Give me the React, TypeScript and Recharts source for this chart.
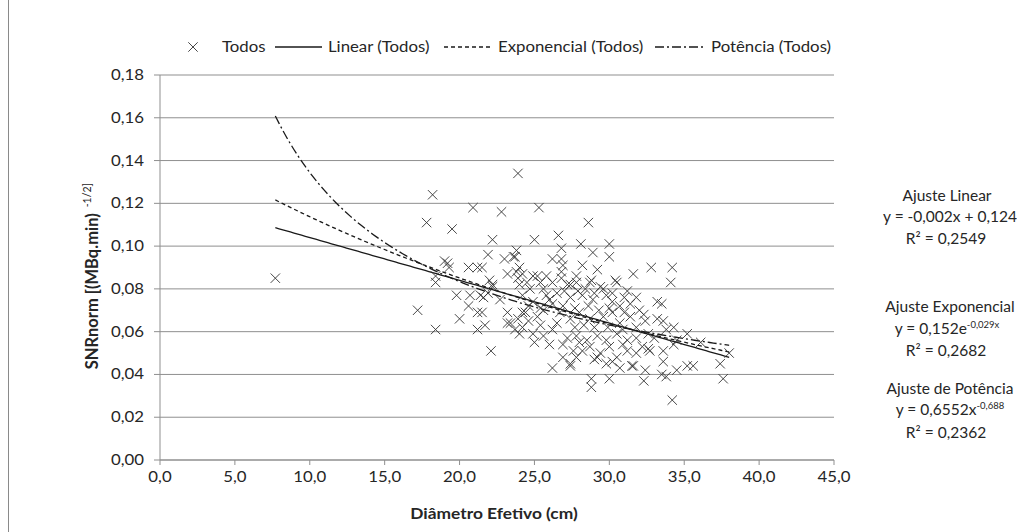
import React from 'react';
import { ComposedChart, Scatter, Line, XAxis, YAxis, CartesianGrid } from 'recharts';

// Diâmetro efetivo (cm), SNRnorm
const todos: [number, number][] = [
  [7.7, 0.085], [18.2, 0.124], [20.9, 0.118], [22.8, 0.116], [17.8, 0.111], [19.5, 0.108],
  [22.2, 0.103], [21.9, 0.096], [19.0, 0.093], [19.2, 0.092], [19.3, 0.090], [20.6, 0.090],
  [21.2, 0.090], [21.5, 0.090], [18.4, 0.086], [18.4, 0.083], [17.2, 0.070], [18.4, 0.061],
  [19.8, 0.077], [20.0, 0.066], [20.6, 0.072], [21.2, 0.069], [21.5, 0.069], [21.2, 0.061],
  [21.7, 0.063], [22.1, 0.051], [21.9, 0.078], [21.6, 0.076], [23.9, 0.134], [25.3, 0.118],
  [28.6, 0.111], [25.0, 0.103], [26.6, 0.105], [28.1, 0.101], [30.0, 0.101], [30.0, 0.095],
  [28.9, 0.097], [26.8, 0.099], [23.0, 0.094], [23.6, 0.095], [23.8, 0.098], [26.2, 0.094],
  [26.8, 0.094], [26.9, 0.091], [28.2, 0.091], [29.2, 0.089], [32.8, 0.090], [34.2, 0.090],
  [34.1, 0.083], [31.6, 0.087], [30.4, 0.084], [31.8, 0.076], [33.2, 0.074], [33.5, 0.073],
  [26.2, 0.043], [27.4, 0.044], [28.8, 0.038], [28.8, 0.034], [30.0, 0.038], [32.3, 0.037],
  [31.5, 0.044], [33.5, 0.040], [34.5, 0.042], [35.2, 0.044], [35.6, 0.044], [34.2, 0.028],
  [32.3, 0.068], [32.4, 0.065], [33.2, 0.066], [33.6, 0.065], [34.3, 0.062], [35.2, 0.059],
  [36.1, 0.055], [34.5, 0.056], [34.3, 0.054], [32.6, 0.052], [32.7, 0.051], [33.6, 0.051],
  [33.6, 0.046], [38.0, 0.050], [37.4, 0.045], [37.6, 0.038], [33.8, 0.039], [32.4, 0.042],
  [27.8, 0.086], [27.4, 0.082], [28.8, 0.084], [26.8, 0.088], [26.8, 0.085], [24.2, 0.087],
  [24.9, 0.086], [25.2, 0.086], [25.8, 0.086], [24.0, 0.090], [23.7, 0.095], [23.2, 0.087],
  [23.8, 0.088], [23.9, 0.085], [24.0, 0.082], [22.0, 0.084], [22.2, 0.081], [20.7, 0.077],
  [21.4, 0.077], [22.2, 0.082], [22.7, 0.075], [23.2, 0.069], [23.2, 0.064], [23.4, 0.064],
  [23.7, 0.061], [24.0, 0.059], [24.2, 0.069], [23.9, 0.066],
  [24.5, 0.083], [25.4, 0.083], [26.2, 0.083], [27.2, 0.082], [27.8, 0.083], [28.7, 0.083],
  [29.4, 0.081], [30.5, 0.083], [31.2, 0.079],
  [24.2, 0.077], [24.9, 0.074], [25.8, 0.077], [26.2, 0.073], [27.4, 0.076], [28.2, 0.077],
  [28.9, 0.075], [29.8, 0.077], [30.2, 0.074], [30.7, 0.072], [31.4, 0.073], [32.0, 0.070],
  [24.4, 0.069], [25.2, 0.067], [25.6, 0.070], [26.7, 0.069], [27.4, 0.066], [28.0, 0.069],
  [28.7, 0.066], [29.6, 0.067], [30.2, 0.069], [30.7, 0.064], [31.4, 0.067], [31.8, 0.062],
  [24.2, 0.062], [24.9, 0.059], [25.6, 0.058], [26.2, 0.061], [27.2, 0.057], [27.8, 0.058],
  [28.5, 0.056], [29.2, 0.058], [29.8, 0.056], [30.5, 0.059], [31.2, 0.056], [31.8, 0.057],
  [26.9, 0.054], [27.6, 0.051], [28.0, 0.055], [28.7, 0.053], [29.4, 0.050], [30.0, 0.053],
  [30.5, 0.048], [31.2, 0.051], [31.8, 0.050], [32.2, 0.053],
  [26.9, 0.048], [27.4, 0.045], [27.8, 0.048], [29.2, 0.048], [29.8, 0.045], [30.2, 0.046],
  [31.6, 0.044], [30.7, 0.043],
  [24.7, 0.080], [25.6, 0.080], [26.5, 0.078], [27.0, 0.079], [27.9, 0.079], [28.4, 0.080],
  [29.0, 0.078], [29.6, 0.080], [30.2, 0.078], [31.0, 0.076],
  [24.6, 0.072], [25.4, 0.071], [26.0, 0.075], [26.9, 0.072], [27.7, 0.071], [28.6, 0.072],
  [29.3, 0.070], [30.0, 0.071], [31.0, 0.069],
  [24.6, 0.065], [25.4, 0.063], [26.5, 0.064], [27.7, 0.062], [28.3, 0.063], [29.0, 0.062],
  [29.9, 0.062], [30.9, 0.061], [32.6, 0.059],
  [25.0, 0.055], [26.0, 0.054], [28.2, 0.051], [29.0, 0.047], [30.9, 0.054], [33.0, 0.057],
  [33.8, 0.061],
];

const xTicks = [0, 5, 10, 15, 20, 25, 30, 35, 40, 45];
const yTicks = [0, 0.02, 0.04, 0.06, 0.08, 0.1, 0.12, 0.14, 0.16, 0.18];

// fitted coefficients, as printed next to the plot
const linear = { a: -0.002, b: 0.124, r2: '0,2549' };
const exponencial = { a: 0.152, k: -0.029, r2: '0,2682' };
const potencia = { a: 0.6552, k: -0.688, r2: '0,2362' };

const points = todos.map(([x, y]) => ({ x, y }));
const xMin = Math.min(...todos.map(p => p[0]));
const xMax = Math.max(...todos.map(p => p[0]));
const trendX: number[] = [];
for (let x = xMin; x < xMax; x += 0.25) trendX.push(x);
trendX.push(xMax);
const linearFit = trendX.map(x => ({ x, y: linear.a * x + linear.b }));
const expFit = trendX.map(x => ({ x, y: exponencial.a * Math.exp(exponencial.k * x) }));
const powFit = trendX.map(x => ({ x, y: potencia.a * Math.pow(x, potencia.k) }));

const W = 1017;
const H = 532;
const FONT = 'Lato, "DejaVu Sans", sans-serif';
const INK = '#262626';
const GRID = '#8f8f8f';
const SX = 1.12; // horizontal stretch of the labels
const FS = 15;

const fmt = (v: number, d: number) => v.toFixed(d).replace('.', ',');

const Cross = ({ cx, cy }: any) => {
  if (cx == null || cy == null) return <g />;
  const r = 4.7;
  return (
    <path
      d={`M${cx - r},${cy - r}L${cx + r},${cy + r}M${cx + r},${cy - r}L${cx - r},${cy + r}`}
      stroke="#333" strokeWidth={1} fill="none" opacity={0.9}
    />
  );
};

const Wide = ({ x, y, anchor = 'start', size = FS, bold = false, children }: any) => (
  <text
    transform={`scale(${SX},1)`} x={x / SX} y={y} textAnchor={anchor}
    fontSize={size} fontWeight={bold ? 700 : 400} fill={INK} fontFamily={FONT}
  >
    {children}
  </text>
);

const XTick = ({ x, y, payload }: any) => (
  <Wide x={x} y={y + 15} anchor="middle">{fmt(payload.value, 1)}</Wide>
);

const YTick = ({ x, y, payload }: any) => (
  <Wide x={x} y={y + 5} anchor="end">{fmt(payload.value, 2)}</Wide>
);

const LegendItems = () => (
  <g>
    <Cross cx={193} cy={47} />
    <Wide x={222} y={52}>Todos</Wide>
    <line x1={275} x2={322} y1={47} y2={47} stroke="#1a1a1a" strokeWidth={1.3} />
    <Wide x={328} y={52}>Linear (Todos)</Wide>
    <line x1={444} x2={492} y1={47} y2={47} stroke="#1a1a1a" strokeWidth={1.3} strokeDasharray="4 3" />
    <Wide x={498} y={52}>Exponencial (Todos)</Wide>
    <line x1={655} x2={705} y1={47} y2={47} stroke="#1a1a1a" strokeWidth={1.3} strokeDasharray="9 3 2 3" />
    <Wide x={711} y={52}>Potência (Todos)</Wide>
  </g>
);

const Note = ({ x, y, children }: any) => (
  <text x={x} y={y} textAnchor="middle" fontSize={15.5} fill={INK} fontFamily={FONT}>{children}</text>
);

const NX = 950;

const App: React.FC = () => (
  <div style={{ position: 'relative', width: W, height: H, background: '#fff', overflow: 'hidden' }}>
    <style>{'body{margin:0;overflow:hidden;}'}</style>
    <ComposedChart width={W} height={H} margin={{ top: 75, right: 183, bottom: 0, left: 0 }}>
      <CartesianGrid vertical={false} stroke={GRID} />
      <XAxis
        type="number" dataKey="x" domain={[0, 45]} ticks={xTicks} height={72}
        axisLine={{ stroke: GRID }} tickLine={{ stroke: GRID }} tickSize={5} tickMargin={2}
        tick={<XTick />} allowDataOverflow
      />
      <YAxis
        type="number" dataKey="y" domain={[0, 0.18]} ticks={yTicks} width={160}
        axisLine={{ stroke: GRID }} tickLine={{ stroke: GRID }} tickSize={6} tickMargin={10}
        tick={<YTick />} allowDataOverflow
      />
      <Scatter data={points} dataKey="y" shape={<Cross />} isAnimationActive={false} />
      <Line data={linearFit} dataKey="y" dot={false} stroke="#1a1a1a" strokeWidth={1.3} isAnimationActive={false} />
      <Line data={expFit} dataKey="y" dot={false} stroke="#1a1a1a" strokeWidth={1.3} strokeDasharray="4 3" isAnimationActive={false} />
      <Line data={powFit} dataKey="y" dot={false} stroke="#1a1a1a" strokeWidth={1.3} strokeDasharray="9 3 2 3" isAnimationActive={false} />
    </ComposedChart>
    <svg width={W} height={H} style={{ position: 'absolute', left: 0, top: 0, pointerEvents: 'none' }}>
      <line x1={8.5} x2={8.5} y1={0} y2={H} stroke="#8a8a8a" />
      <LegendItems />
      <g transform="translate(98,276) rotate(-90)">
        <text x={0} y={0} textAnchor="middle" fontSize={16.5} fontWeight={700} fill={INK} fontFamily={FONT}>
          SNRnorm [(MBq.min)
          <tspan fontSize={10.5} fontWeight={400} dx={6} dy={-7}>-1/2</tspan>
          <tspan fontWeight={400} fontSize={12}>]</tspan>
        </text>
      </g>
      <Wide x={494} y={519} anchor="middle" size={15.5} bold>Diâmetro Efetivo (cm)</Wide>
      <Note x={NX - 3} y={201}>Ajuste Linear</Note>
      <Note x={NX} y={222}>y = -0,002x + 0,124</Note>
      <Note x={NX - 4} y={244}>R² = {linear.r2}</Note>
      <Note x={NX} y={312}>Ajuste Exponencial</Note>
      <Note x={NX - 3} y={334}>
        y = 0,152e<tspan fontSize={9.5} dy={-6}>-0,029x</tspan>
      </Note>
      <Note x={NX - 4} y={356}>R² = {exponencial.r2}</Note>
      <Note x={NX} y={394}>Ajuste de Potência</Note>
      <Note x={NX} y={415}>
        y = 0,6552x<tspan fontSize={9.5} dy={-6}>-0,688</tspan>
      </Note>
      <Note x={NX - 4} y={438}>R² = {potencia.r2}</Note>
    </svg>
  </div>
);

export default App;
